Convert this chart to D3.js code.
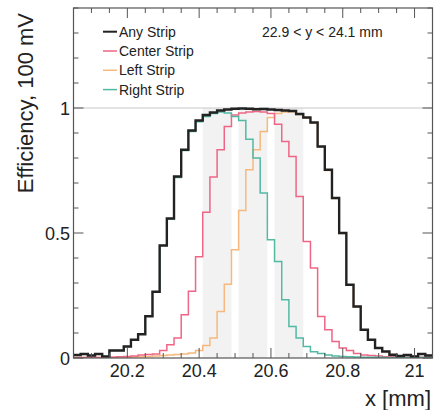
<!DOCTYPE html>
<html>
<head>
<meta charset="utf-8">
<script src="https://cdn.jsdelivr.net/npm/d3@7"></script>
<style>
  body { margin: 0; background: #fff; }
  svg { display: block; font-family: "Liberation Sans", Arial, sans-serif; }
</style>
</head>
<body>
<svg width="436" height="410"></svg>
<script>
// bin edges, x [mm]
const binEdges = [20.05, 20.07, 20.09, 20.11, 20.13, 20.15, 20.17, 20.19, 20.21, 20.23,
  20.25, 20.27, 20.29, 20.31, 20.33, 20.35, 20.37, 20.39, 20.41, 20.43,
  20.45, 20.47, 20.49, 20.51, 20.53, 20.55, 20.57, 20.59, 20.61, 20.63,
  20.65, 20.67, 20.69, 20.71, 20.73, 20.75, 20.77, 20.79, 20.81, 20.83,
  20.85, 20.87, 20.89, 20.91, 20.93, 20.95, 20.97, 20.99, 21.01, 21.03, 21.05];

const anyStrip = [0.012, 0.016, 0.010, 0.016, 0.006, 0.030, 0.030, 0.046, 0.073, 0.095,
  0.167, 0.265, 0.450, 0.558, 0.726, 0.833, 0.910, 0.950, 0.972, 0.982,
  0.990, 0.994, 0.997, 0.998, 0.997, 0.995, 0.996, 0.994, 0.992, 0.990,
  0.988, 0.976, 0.962, 0.942, 0.846, 0.753, 0.640, 0.500, 0.293, 0.206,
  0.113, 0.073, 0.040, 0.026, 0.013, 0.008, 0.012, 0.006, 0.016, 0.010];

const centerStrip = [0.002, 0.002, 0.003, 0.002, 0.004, 0.003, 0.005, 0.006, 0.008, 0.012,
  0.014, 0.016, 0.030, 0.053, 0.080, 0.173, 0.267, 0.405, 0.583, 0.724,
  0.833, 0.926, 0.972, 0.980, 0.984, 0.986, 0.984, 0.978, 0.935, 0.866,
  0.806, 0.646, 0.466, 0.360, 0.166, 0.113, 0.066, 0.040, 0.030, 0.018,
  0.012, 0.010, 0.008, 0.005, 0.006, 0.004, 0.003, 0.004, 0.003, 0.002];

const leftStrip = [0.002, 0.002, 0.002, 0.002, 0.002, 0.003, 0.003, 0.003, 0.004, 0.005,
  0.006, 0.008, 0.010, 0.012, 0.014, 0.016, 0.020, 0.030, 0.050, 0.080,
  0.186, 0.295, 0.433, 0.590, 0.753, 0.833, 0.906, 0.962, 0.978, 0.984,
  0.985, 0.974, 0.960, 0.940, 0.844, 0.750, 0.638, 0.498, 0.291, 0.204,
  0.112, 0.072, 0.040, 0.026, 0.013, 0.008, 0.012, 0.006, 0.016, 0.010];

const rightStrip = [0.012, 0.016, 0.010, 0.016, 0.006, 0.030, 0.030, 0.046, 0.073, 0.095,
  0.167, 0.265, 0.450, 0.556, 0.722, 0.830, 0.906, 0.945, 0.966, 0.978,
  0.984, 0.980, 0.966, 0.950, 0.875, 0.800, 0.660, 0.473, 0.386, 0.233,
  0.126, 0.080, 0.046, 0.025, 0.018, 0.012, 0.008, 0.006, 0.005, 0.004,
  0.003, 0.003, 0.003, 0.002, 0.002, 0.002, 0.002, 0.002, 0.002, 0.002];

// strip positions (shaded), x [mm]
const stripBands = [[20.41, 20.49], [20.51, 20.59], [20.61, 20.69]];

const series = [
  {name: 'Any Strip', values: anyStrip, color: '#222222', width: 2.4},
  {name: 'Center Strip', values: centerStrip, color: '#ef6585', width: 1.5},
  {name: 'Left Strip', values: leftStrip, color: '#f6b87c', width: 1.5},
  {name: 'Right Strip', values: rightStrip, color: '#52b9a3', width: 1.5}
];
const drawOrder = [2, 1, 3, 0];

const xTicks = [20.2, 20.4, 20.6, 20.8, 21];
const yTicks = [0, 0.5, 1];

const margin = {top: 8, right: 3.5, bottom: 52, left: 73.5};
const width = 436, height = 410;
const svg = d3.select('svg');

const x = d3.scaleLinear().domain([20.05, 21.05]).range([margin.left, width - margin.right]);
const y = d3.scaleLinear().domain([0, 1.4]).range([height - margin.bottom, margin.top]);

svg.append('defs').append('clipPath').attr('id', 'frame')
  .append('rect')
  .attr('x', x(20.05)).attr('y', y(1.4))
  .attr('width', x(21.05) - x(20.05)).attr('height', y(0) - y(1.4));

// shaded strips
svg.append('g').selectAll('rect')
  .data(stripBands)
  .enter().append('rect')
  .attr('x', d => x(d[0]))
  .attr('width', d => x(d[1]) - x(d[0]))
  .attr('y', y(1))
  .attr('height', y(0) - y(1))
  .attr('fill', '#f2f2f2');

// line at efficiency 1
svg.append('line')
  .attr('x1', x(20.05)).attr('x2', x(21.05))
  .attr('y1', y(1)).attr('y2', y(1))
  .attr('stroke', '#c8c8c8').attr('stroke-width', 1);

const step = d3.line()
  .x(d => x(d[0]))
  .y(d => y(d[1]))
  .curve(d3.curveStepAfter);

const plot = svg.append('g').attr('clip-path', 'url(#frame)');
drawOrder.forEach(i => {
  const s = series[i];
  const pts = s.values.map((v, j) => [binEdges[j], v]);
  pts.push([binEdges[binEdges.length - 1], s.values[s.values.length - 1]]);
  plot.append('path')
    .datum(pts)
    .attr('fill', 'none')
    .attr('stroke', s.color)
    .attr('stroke-width', s.width)
    .attr('stroke-linejoin', 'miter')
    .attr('d', step);
});

// frame and ticks
const axisColor = '#555';
svg.append('rect')
  .attr('x', x(20.05)).attr('y', y(1.4))
  .attr('width', x(21.05) - x(20.05)).attr('height', y(0) - y(1.4))
  .attr('fill', 'none').attr('stroke', axisColor).attr('stroke-width', 1.2);

const xMinor = d3.range(20.05, 21.051, 0.05).map(v => +v.toFixed(2));
const yMinor = d3.range(0, 1.401, 0.1).map(v => +v.toFixed(1));
const ticks = svg.append('g').attr('stroke', axisColor).attr('stroke-width', 1);
xMinor.forEach(v => {
  const len = xTicks.some(t => Math.abs(t - v) < 1e-6) ? 10 : 5;
  ticks.append('line').attr('x1', x(v)).attr('x2', x(v)).attr('y1', y(0)).attr('y2', y(0) - len);
  ticks.append('line').attr('x1', x(v)).attr('x2', x(v)).attr('y1', y(1.4)).attr('y2', y(1.4) + len);
});
yMinor.forEach(v => {
  const len = yTicks.some(t => Math.abs(t - v) < 1e-6) ? 10 : 5;
  ticks.append('line').attr('x1', x(20.05)).attr('x2', x(20.05) + len).attr('y1', y(v)).attr('y2', y(v));
  ticks.append('line').attr('x1', x(21.05)).attr('x2', x(21.05) - len).attr('y1', y(v)).attr('y2', y(v));
});

const textColor = '#222';
svg.append('g').selectAll('text')
  .data(xTicks)
  .enter().append('text')
  .attr('x', d => x(d))
  .attr('y', 377)
  .attr('text-anchor', 'middle')
  .attr('font-size', 18)
  .attr('fill', textColor)
  .text(d => d);

svg.append('g').selectAll('text')
  .data(yTicks)
  .enter().append('text')
  .attr('x', 70)
  .attr('y', d => y(d) + 6.5)
  .attr('text-anchor', 'end')
  .attr('font-size', 18)
  .attr('fill', textColor)
  .text(d => d);

svg.append('text')
  .attr('x', 431).attr('y', 406)
  .attr('text-anchor', 'end')
  .attr('font-size', 22)
  .attr('fill', textColor)
  .text('x [mm]');

svg.append('text')
  .attr('transform', 'translate(33,13) rotate(-90)')
  .attr('text-anchor', 'end')
  .attr('font-size', 22)
  .attr('fill', textColor)
  .text('Efficiency, 100 mV');

// legend
const legend = svg.append('g');
series.forEach((s, i) => {
  const ly = 31.7 + i * 19.3;
  legend.append('line')
    .attr('x1', 103).attr('x2', 117)
    .attr('y1', ly).attr('y2', ly)
    .attr('stroke', s.color).attr('stroke-width', i === 0 ? 2 : 1.5);
  legend.append('text')
    .attr('x', 119).attr('y', ly + 5)
    .attr('font-size', 14)
    .attr('fill', textColor)
    .text(s.name);
});

svg.append('text')
  .attr('x', 262).attr('y', 37)
  .attr('font-size', 14)
  .attr('fill', textColor)
  .text('22.9 < y < 24.1 mm');
</script>
</body>
</html>
